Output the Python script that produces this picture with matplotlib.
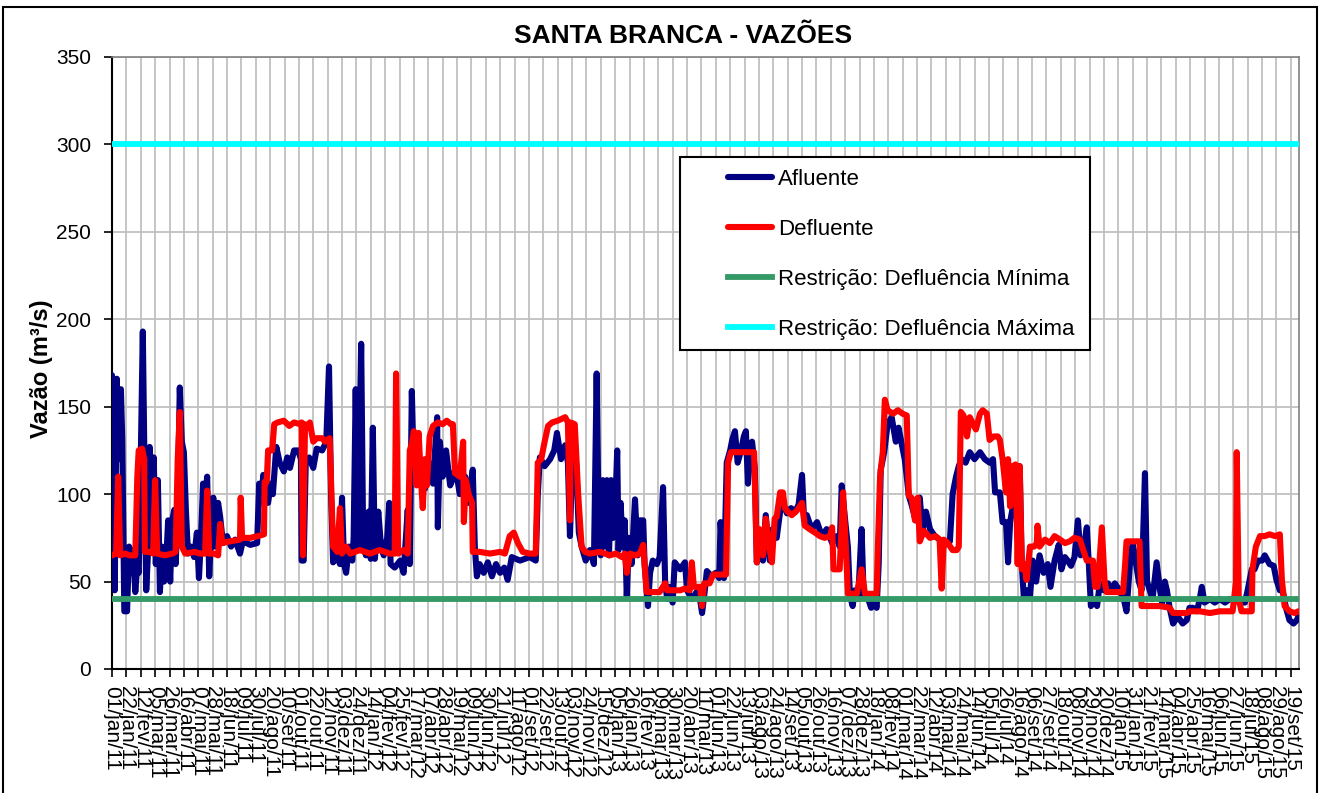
import matplotlib
matplotlib.use("Agg")
import matplotlib.pyplot as plt
import matplotlib.patches as mpatches
import numpy as np
import pandas as pd

plt.rcParams['font.family'] = ['Liberation Sans', 'DejaVu Sans']

# ---------------- data ----------------
inicio = "2011-01-01"
fim_eixo_dias = 1734          # axis end (days after inicio)
passo_ticks = 21              # tick every 21 days
meses = ["jan", "fev", "mar", "abr", "mai", "jun", "jul", "ago", "set", "out", "nov", "dez"]

# Afluente: day after 01/jan/2011, flow (m3/s)
afl_dias = [0, 1, 3, 4, 7, 10, 13, 15, 18, 22, 25, 28, 31, 34, 37, 39, 42, 45, 48, 50, 53, 55, 58, 61, 64, 67,
            70, 73, 76, 79, 82, 85, 88, 91, 93, 96, 99, 102, 105, 108, 111, 115, 120, 124, 127, 130, 133, 136,
            139, 142, 145, 148, 150, 155, 158, 162, 168, 174, 180, 187, 191, 202, 212, 215, 218, 221, 223, 228,
            232, 235, 240, 245, 251, 256, 260, 266, 272, 276, 277, 280, 283, 288, 294, 299, 307, 313, 317, 320,
            323, 329, 333, 336, 339, 342, 346, 351, 353, 356, 359, 364, 367, 371, 375, 378, 381, 384, 389, 393,
            397, 402, 405, 407, 413, 421, 426, 432, 435, 438, 441, 445, 451, 457, 463, 469, 475, 476, 479, 483,
            488, 494, 497, 502, 508, 516, 521, 527, 530, 533, 537, 543, 549, 555, 561, 567, 573, 578, 584, 596,
            610, 619, 622, 625, 632, 640, 646, 650, 656, 662, 666, 669, 673, 678, 682, 686, 692, 698, 704, 708,
            711, 714, 717, 720, 723, 726, 729, 732, 735, 738, 740, 743, 746, 749, 752, 755, 759, 764, 768, 771,
            776, 778, 783, 786, 790, 796, 800, 805, 808, 811, 815, 819, 822, 830, 837, 840, 847, 854, 859, 862,
            866, 869, 876, 882, 887, 889, 894, 898, 903, 906, 910, 914, 919, 923, 926, 929, 932, 935, 939, 942,
            946, 951, 955, 961, 965, 971, 976, 980, 986, 992, 998, 1003, 1008, 1011, 1015, 1022, 1030, 1037,
            1044, 1052, 1059, 1063, 1066, 1071, 1075, 1078, 1082, 1085, 1090, 1095, 1098, 1103, 1109, 1114,
            1117, 1120, 1123, 1128, 1133, 1139, 1145, 1149, 1155, 1158, 1161, 1164, 1168, 1174, 1180, 1184,
            1189, 1195, 1202, 1209, 1217, 1224, 1228, 1233, 1237, 1241, 1247, 1253, 1260, 1268, 1275, 1282,
            1287, 1290, 1297, 1301, 1306, 1309, 1312, 1317, 1322, 1326, 1329, 1332, 1336, 1341, 1345, 1350,
            1355, 1361, 1367, 1371, 1377, 1383, 1387, 1392, 1396, 1401, 1406, 1411, 1415, 1420, 1424, 1427,
            1430, 1434, 1439, 1443, 1449, 1455, 1460, 1465, 1472, 1478, 1482, 1487, 1491, 1496, 1500, 1504,
            1509, 1512, 1516, 1520, 1526, 1531, 1534, 1538, 1541, 1545, 1550, 1557, 1564, 1570, 1574, 1579,
            1585, 1589, 1592, 1596, 1604, 1611, 1618, 1626, 1633, 1640, 1647, 1655, 1659, 1665, 1669, 1674,
            1680, 1684, 1691, 1697, 1701, 1706, 1710, 1715, 1720, 1726, 1731, 1733]
afl_vazao = [168, 70, 160, 45, 166, 120, 160, 131, 33, 33, 70, 55, 68, 44, 60, 55, 120, 193, 100, 45, 70, 127, 95,
             121, 60, 108, 44, 70, 50, 60, 85, 50, 85, 91, 60, 90, 161, 130, 124, 90, 66, 70, 64, 78, 52, 75, 106,
             95, 110, 53, 80, 98, 70, 95, 87, 72, 76, 70, 74, 66, 73, 71, 72, 106, 95, 111, 100, 95, 106, 100,
             127, 118, 113, 121, 115, 125, 125, 120, 62, 62, 118, 121, 115, 126, 125, 130, 173, 100, 61, 65, 60,
             98, 60, 55, 70, 62, 75, 160, 70, 186, 70, 65, 90, 63, 138, 63, 90, 70, 65, 75, 95, 60, 58, 62, 55,
             91, 60, 159, 110, 121, 110, 103, 118, 106, 144, 81, 130, 110, 125, 105, 108, 115, 100, 110, 95, 114,
             70, 53, 60, 55, 61, 53, 60, 55, 58, 51, 64, 62, 64, 62, 100, 121, 116, 120, 125, 135, 120, 128, 118,
             76, 128, 118, 78, 70, 62, 68, 60, 169, 80, 65, 108, 70, 108, 65, 108, 75, 90, 125, 68, 95, 70, 85,
             41, 75, 60, 97, 65, 85, 85, 60, 36, 55, 62, 60, 64, 104, 50, 40, 47, 38, 61, 57, 61, 45, 40, 44, 40,
             32, 45, 56, 53, 55, 52, 84, 52, 118, 125, 131, 136, 118, 125, 133, 136, 106, 125, 130, 115, 61, 70,
             62, 88, 62, 80, 75, 90, 95, 89, 92, 90, 94, 111, 85, 88, 80, 84, 76, 80, 72, 76, 70, 105, 85, 70, 42,
             36, 45, 40, 80, 42, 42, 35, 38, 35, 60, 114, 124, 140, 144, 130, 138, 126, 120, 110, 99, 94, 85, 98,
             79, 90, 80, 76, 74, 71, 73, 100, 110, 116, 120, 118, 124, 120, 124, 120, 118, 120, 101, 101, 84, 84,
             61, 84, 95, 116, 116, 60, 41, 45, 41, 62, 50, 65, 55, 60, 47, 62, 71, 57, 64, 62, 59, 64, 85, 65, 70,
             81, 60, 36, 40, 36, 49, 45, 49, 45, 49, 45, 40, 33, 60, 72, 60, 50, 45, 112, 50, 45, 40, 61, 45, 38,
             50, 45, 35, 26, 30, 26, 28, 35, 35, 33, 40, 47, 38, 40, 38, 40, 38, 40, 40, 38, 38, 45, 57, 57, 62,
             62, 65, 60, 59, 51, 45, 45, 35, 28, 26, 28, 30]

# Defluente: day after 01/jan/2011, flow (m3/s)
def_dias = [0, 6, 9, 12, 19, 26, 34, 37, 39, 44, 47, 48, 55, 60, 63, 66, 77, 88, 93, 96, 99, 102, 107, 121, 129,
            136, 139, 142, 149, 155, 158, 161, 172, 187, 188, 190, 202, 213, 222, 223, 226, 228, 234, 237, 242,
            251, 259, 266, 275, 277, 279, 282, 286, 289, 294, 299, 307, 311, 318, 323, 329, 333, 336, 342, 348,
            362, 377, 391, 406, 413, 415, 418, 426, 432, 435, 438, 441, 445, 448, 451, 454, 457, 460, 464, 469,
            476, 483, 489, 495, 498, 501, 508, 513, 514, 517, 521, 526, 527, 537, 552, 567, 574, 581, 587, 593,
            600, 610, 619, 622, 627, 632, 637, 643, 651, 662, 666, 669, 670, 676, 681, 686, 691, 698, 713, 727,
            736, 745, 749, 752, 757, 764, 771, 776, 781, 793, 800, 808, 811, 822, 830, 837, 844, 847, 850, 859,
            862, 865, 873, 878, 888, 897, 900, 904, 917, 932, 938, 942, 946, 951, 955, 960, 964, 968, 971, 976,
            980, 983, 987, 993, 999, 1003, 1008, 1012, 1019, 1027, 1034, 1041, 1049, 1052, 1054, 1063, 1068,
            1072, 1075, 1081, 1088, 1095, 1100, 1107, 1117, 1119, 1122, 1126, 1129, 1133, 1141, 1148, 1155,
            1161, 1164, 1168, 1173, 1177, 1180, 1186, 1195, 1203, 1209, 1212, 1215, 1221, 1228, 1234, 1237,
            1240, 1244, 1249, 1253, 1258, 1262, 1268, 1272, 1278, 1282, 1288, 1294, 1297, 1301, 1306, 1309,
            1312, 1316, 1320, 1323, 1326, 1329, 1333, 1336, 1341, 1347, 1351, 1352, 1355, 1363, 1370, 1377,
            1385, 1392, 1399, 1406, 1414, 1418, 1424, 1433, 1436, 1440, 1446, 1450, 1453, 1465, 1477, 1480,
            1482, 1491, 1501, 1504, 1516, 1531, 1545, 1550, 1560, 1570, 1574, 1589, 1604, 1618, 1637, 1642,
            1643, 1646, 1650, 1665, 1666, 1671, 1677, 1684, 1691, 1699, 1706, 1709, 1713, 1720, 1728, 1733]
def_vazao = [65, 66, 110, 65, 66, 65, 65, 110, 125, 126, 120, 67, 67, 66, 108, 66, 65, 66, 67, 120, 147, 70, 66,
             67, 66, 66, 102, 66, 66, 65, 83, 72, 73, 74, 98, 75, 75, 76, 77, 107, 107, 125, 125, 140, 141, 142,
             139, 141, 140, 141, 65, 140, 138, 141, 130, 132, 132, 130, 132, 70, 67, 92, 66, 70, 66, 68, 66, 68,
             66, 66, 169, 66, 68, 66, 125, 129, 136, 105, 135, 110, 92, 120, 105, 133, 139, 141, 140, 142, 140,
             140, 112, 110, 130, 84, 108, 100, 95, 67, 67, 66, 67, 66, 76, 78, 72, 67, 66, 66, 118, 120, 130, 139,
             141, 142, 144, 141, 85, 141, 140, 100, 70, 67, 66, 67, 65, 66, 64, 66, 55, 66, 65, 66, 71, 44, 44, 44,
             49, 45, 45, 45, 46, 45, 61, 47, 47, 36, 49, 49, 54, 54, 54, 118, 124, 124, 124, 124, 61, 80, 65, 86,
             70, 61, 86, 87, 101, 101, 92, 90, 88, 90, 92, 95, 82, 80, 78, 76, 75, 76, 81, 57, 57, 101, 70, 43, 43,
             43, 57, 43, 43, 43, 72, 110, 124, 154, 148, 146, 148, 146, 145, 99, 98, 85, 98, 73, 79, 75, 76, 74,
             46, 74, 72, 68, 68, 70, 147, 145, 133, 144, 140, 137, 146, 148, 146, 131, 133, 133, 131, 120, 101,
             120, 93, 116, 117, 60, 116, 57, 60, 51, 70, 70, 72, 82, 70, 74, 72, 76, 74, 72, 73, 75, 74, 69, 62,
             62, 47, 47, 81, 50, 44, 44, 44, 60, 73, 73, 73, 36, 36, 36, 35, 32, 32, 32, 33, 33, 32, 33, 33, 50,
             124, 40, 33, 33, 57, 70, 76, 76, 77, 76, 77, 51, 36, 33, 32, 33]

restricao_min = 40
restricao_max = 300

titulo = "SANTA BRANCA - VAZÕES"
rotulo_y = "Vazão (m³/s)"
legendas = ["Afluente", "Defluente", "Restrição: Defluência Mínima", "Restrição: Defluência Máxima"]
cores = ["#000080", "#FF0000", "#339966", "#00FFFF"]

# ---------------- figure ----------------
t0 = pd.Timestamp(inicio)
afl_datas = t0 + pd.to_timedelta(afl_dias, unit="D")
def_datas = t0 + pd.to_timedelta(def_dias, unit="D")
x_fim = t0 + pd.Timedelta(days=fim_eixo_dias)

fig = plt.figure(figsize=(13.2, 7.93), dpi=100)
ax = fig.add_axes([112/1320, 1-669/793, (1299-112)/1320, (669-57)/793])

lw = 4.4
ax.plot(afl_datas, afl_vazao, color=cores[0], lw=lw, solid_joinstyle="round", solid_capstyle="round",
        label=legendas[0], zorder=3)
ax.plot(def_datas, def_vazao, color=cores[1], lw=lw, solid_joinstyle="round", solid_capstyle="round",
        label=legendas[1], zorder=4)
ax.plot([t0, x_fim], [restricao_min, restricao_min], color=cores[2], lw=4.2, label=legendas[2], zorder=5)
ax.plot([t0, x_fim], [restricao_max, restricao_max], color=cores[3], lw=4.2, label=legendas[3], zorder=5)

ax.set_xlim(t0, x_fim)
ax.set_ylim(0, 350)
ax.set_yticks(np.arange(0, 351, 50))

ticks = pd.date_range(t0, t0 + pd.Timedelta(days=1722), freq=f"{passo_ticks}D")
ax.set_xticks(ticks)
ax.set_xticklabels([f"{d.day:02d}/{meses[d.month-1]}/{d.year % 100:02d}" for d in ticks],
                   rotation=270, ha="center", va="top", fontsize=15)
ax.tick_params(axis="x", length=6, width=1.2, pad=6, direction="out")
ax.tick_params(axis="y", length=6, width=1.2, pad=9, labelsize=15, direction="out")

ax.grid(True, color="#C0C0C0", lw=1.3, zorder=0)
ax.set_axisbelow(True)
for s in ["left", "bottom"]:
    ax.spines[s].set_color("black")
    ax.spines[s].set_linewidth(1.5)
for s in ["top", "right"]:
    ax.spines[s].set_color("#808080")
    ax.spines[s].set_linewidth(1.2)

ax.set_ylabel(rotulo_y, fontsize=17, fontweight="bold")
ax.yaxis.set_label_coords(-0.05, 0.49)

fig.text(683/1320, 1-36/793, titulo, ha="center", va="center", fontsize=19, fontweight="bold")

# legend box
box = mpatches.Rectangle(((680-112)/1187, (669-350)/612), 410/1187, 193/612, transform=ax.transAxes,
                         facecolor="white", edgecolor="black", lw=1.5, zorder=9)
ax.add_patch(box)
leg = ax.legend(loc="upper left", bbox_to_anchor=((728-112)/1187, (669-169)/612), frameon=False,
                fontsize=16, handlelength=2.0, handletextpad=0.25, labelspacing=1.3, borderpad=0,
                borderaxespad=0)
leg.set_zorder(10)

# outer border
fig.patches.append(mpatches.Rectangle((3/1320, -0.05), (1317-3)/1320, 1-7/793+0.05, transform=fig.transFigure,
                                      fill=False, edgecolor="black", lw=1.5))

fig.savefig("out.png", dpi=100)
